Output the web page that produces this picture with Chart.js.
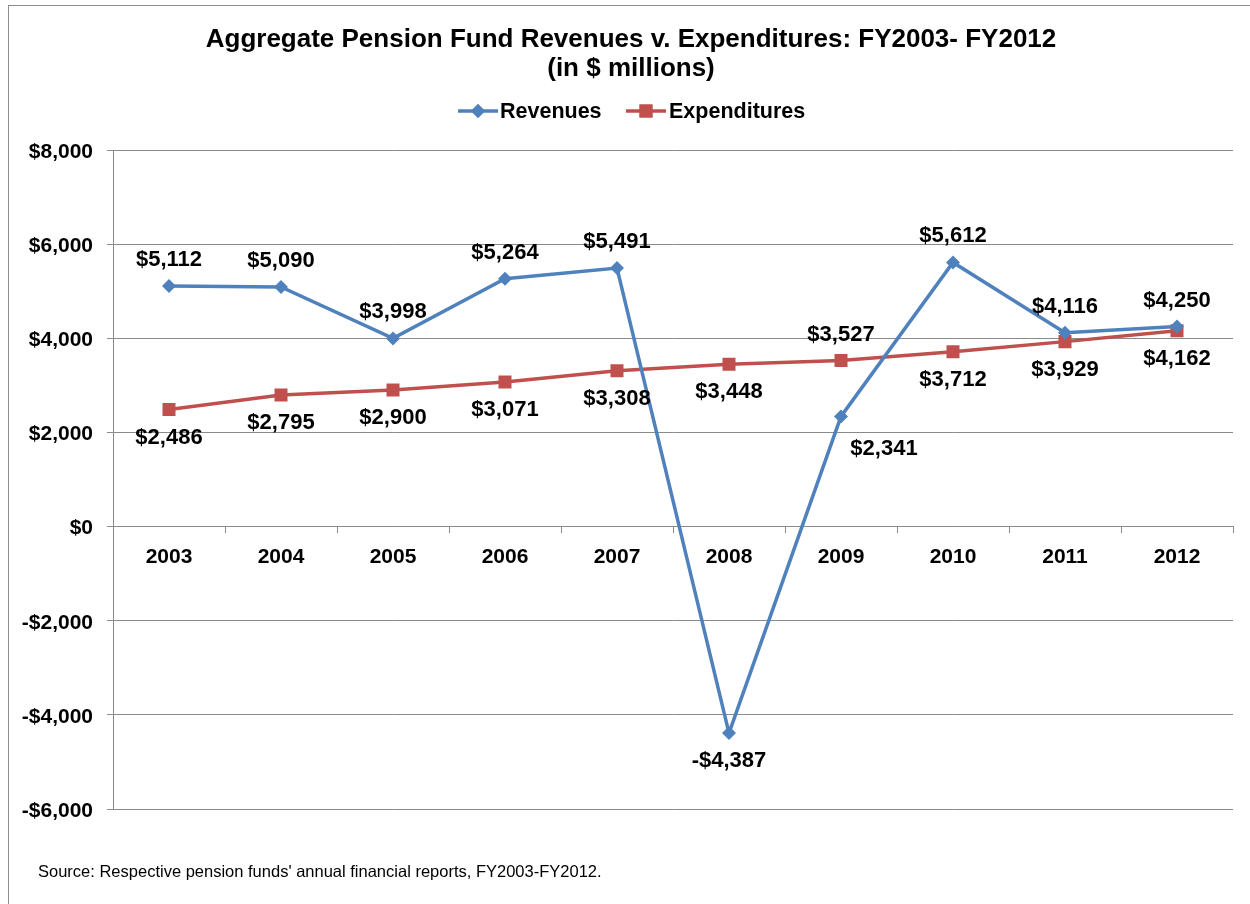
<!DOCTYPE html>
<html><head><meta charset="utf-8">
<script src="https://cdn.jsdelivr.net/npm/chart.js@4.4.1/dist/chart.umd.min.js"></script>
<style>
html,body{margin:0;padding:0;background:#fff;overflow:hidden;width:1250px;height:904px;}
#frame{position:absolute;left:8px;top:5px;width:1400px;height:1100px;border:1px solid #8e8e8e;box-sizing:border-box;}
#wrap{position:absolute;left:0;top:0;width:1250px;height:904px;}
</style></head><body>
<div id="frame"></div>
<div id="wrap"><canvas id="c" width="1250" height="904"></canvas></div>
<script>
const years = ['2003','2004','2005','2006','2007','2008','2009','2010','2011','2012'];
const revenues = [5112, 5090, 3998, 5264, 5491, -4387, 2341, 5612, 4116, 4250];
const expenditures = [2486, 2795, 2900, 3071, 3308, 3448, 3527, 3712, 3929, 4162];
const yMin = -6000, yMax = 8000, yStep = 2000;
const titleLines = ['Aggregate Pension Fund Revenues v. Expenditures: FY2003- FY2012', '(in $ millions)'];
const seriesNames = ['Revenues', 'Expenditures'];
const sourceNote = "Source: Respective pension funds' annual financial reports, FY2003-FY2012.";
const revenueLabelSide = ['above','above','above','above','above','below','belowRight','above','above','above'];
const expenditureLabelSide = ['below','below','below','below','below','below','above','below','below','below'];

const FONT = '"Liberation Sans", Arial, sans-serif';
const BLUE = '#4F81BD', RED = '#C0504D', GRID = '#8a8a8a';

function money(v){
  const s = '$' + Math.abs(v).toLocaleString('en-US');
  return v < 0 ? '-' + s : s;
}

const decor = {
  id: 'decor',
  afterDraw(chart){
    const ctx = chart.ctx;
    ctx.save();
    // title
    ctx.fillStyle = '#000';
    ctx.textAlign = 'center';
    ctx.textBaseline = 'middle';
    ctx.font = 'bold 26px ' + FONT;
    ctx.fillText(titleLines[0], 631, 40);
    ctx.fillText(titleLines[1], 631, 69);
    // legend
    const ds = chart.data.datasets;
    const items = [{x0:458, x1:498, tx:500}, {x0:626, x1:666, tx:669}];
    const ly = 111;
    ctx.font = 'bold 21.5px ' + FONT;
    ctx.textAlign = 'left';
    items.forEach((it, i) => {
      const d = ds[i];
      ctx.strokeStyle = d.borderColor;
      ctx.lineWidth = 3.5;
      ctx.beginPath(); ctx.moveTo(it.x0, ly); ctx.lineTo(it.x1, ly); ctx.stroke();
      ctx.fillStyle = d.borderColor;
      ctx.beginPath();
      Chart.helpers.drawPoint(ctx, {pointStyle: d.pointStyle, radius: d.pointRadius, borderWidth: 0}, (it.x0+it.x1)/2, ly);
      ctx.fill();
      ctx.fillStyle = '#000';
      ctx.fillText(d.label, it.tx, ly + 1);
    });
    // data labels
    ctx.font = 'bold 22px ' + FONT;
    ctx.textAlign = 'center';
    const sides = [revenueLabelSide, expenditureLabelSide];
    ds.forEach((d, i) => {
      const meta = chart.getDatasetMeta(i);
      meta.data.forEach((pt, j) => {
        const side = sides[i][j];
        let x = pt.x, y = pt.y;
        if (side === 'above') y -= 26;
        else if (side === 'below') y += 28;
        else if (side === 'belowRight') { x += 43; y += 33; }
        ctx.fillText(money(d.data[j]), x, y);
      });
    });
    // source
    ctx.font = '16.5px ' + FONT;
    ctx.textAlign = 'left';
    ctx.fillText(sourceNote, 38, 872);
    ctx.restore();
  }
};

new Chart(document.getElementById('c'), {
  type: 'line',
  data: {
    labels: years,
    datasets: [
      {label: seriesNames[0], data: revenues, borderColor: BLUE, backgroundColor: BLUE, borderWidth: 3.5,
       pointStyle: 'rectRot', pointRadius: 7, pointBorderWidth: 0, tension: 0},
      {label: seriesNames[1], data: expenditures, borderColor: RED, backgroundColor: RED, borderWidth: 3.5,
       pointStyle: 'rect', pointRadius: 9.2, pointBorderWidth: 0, tension: 0}
    ]
  },
  options: {
    responsive: false,
    animation: false,
    devicePixelRatio: 1,
    layout: {padding: {left: 0, right: 17, top: 150, bottom: 95}},
    plugins: {legend: {display: false}, title: {display: false}, tooltip: {enabled: false}},
    scales: {
      x: {
        position: {y: 0},
        offset: true,
        grid: {display: true, offset: true, drawOnChartArea: false, drawTicks: true, tickLength: 6, color: GRID},
        border: {display: true, color: GRID, width: 1},
        ticks: {font: {family: FONT, size: 21, weight: 'bold'}, color: '#000', padding: 12, maxRotation: 0}
      },
      y: {
        min: yMin, max: yMax,
        afterFit(scale){ scale.width = 113; },
        grid: {color: GRID, tickLength: 6, drawTicks: true},
        border: {display: true, color: GRID, width: 1},
        ticks: {stepSize: yStep, font: {family: FONT, size: 21, weight: 'bold'}, color: '#000', padding: 14,
                labelOffset: 2, callback: v => money(v)}
      }
    }
  },
  plugins: [decor]
});
</script>
</body></html>
